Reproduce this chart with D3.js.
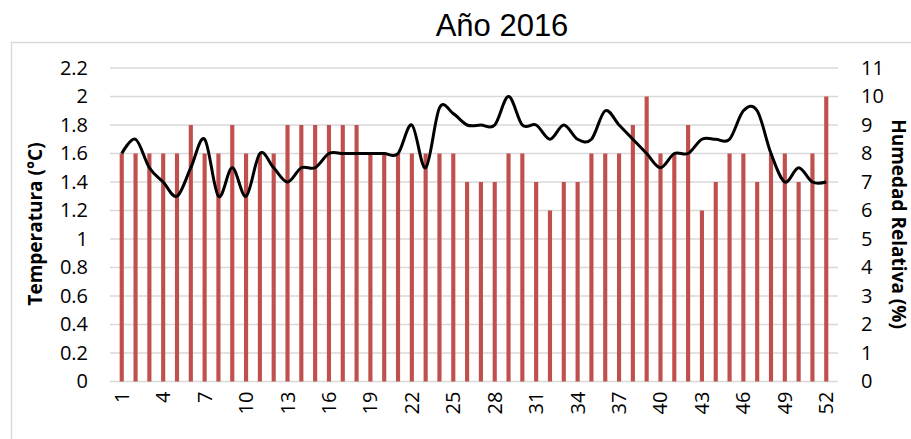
<!DOCTYPE html>
<html>
<head>
<meta charset="utf-8">
<script src="https://cdn.jsdelivr.net/npm/d3@7"></script>
<style>
  body { margin: 0; background: #fff; }
  svg { display: block; }
  .axis-label { font-family: "Open Sans", "Noto Sans", sans-serif; font-size: 19px; font-weight: bold; }
</style>
</head>
<body>
<svg width="911" height="439"></svg>
<script>
// semanas 1..52
const weeks = d3.range(1, 53);
const temperatura = [
  1.6, 1.6, 1.6, 1.6, 1.6, 1.8, 1.6, 1.6, 1.8, 1.6,
  1.6, 1.6, 1.8, 1.8, 1.8, 1.8, 1.8, 1.8, 1.6, 1.6,
  1.6, 1.6, 1.6, 1.6, 1.6, 1.4, 1.4, 1.4, 1.6, 1.6,
  1.4, 1.2, 1.4, 1.4, 1.6, 1.6, 1.6, 1.8, 2.0, 1.6,
  1.6, 1.8, 1.2, 1.4, 1.6, 1.6, 1.4, 1.6, 1.6, 1.4,
  1.6, 2.0
];
const humedad = [
  8, 8.5, 7.5, 7, 6.5, 7.5, 8.5, 6.5, 7.5, 6.5,
  8, 7.5, 7, 7.5, 7.5, 8, 8, 8, 8, 8,
  8, 9, 7.5, 9.6, 9.4, 9, 9, 9, 10, 9,
  9, 8.5, 9, 8.5, 8.5, 9.5, 9, 8.5, 8, 7.5,
  8, 8, 8.5, 8.5, 8.5, 9.5, 9.5, 8, 7, 7.5,
  7, 7
];
const tempTicks = d3.range(0, 2.21, 0.2);
const humTicks = d3.range(0, 12);
const xTicks = weeks.filter(w => (w - 1) % 3 === 0);

const margin = { left: 110, right: 73, top: 68, bottom: 57 };
const svg = d3.select('svg');
const width = +svg.attr('width');
const innerWidth = width - margin.left - margin.right;
const innerHeight = 381.5 - margin.top;

// marco del gráfico
svg.append('rect')
  .attr('x', 11.5).attr('y', 42.5)
  .attr('width', 920).attr('height', 420)
  .attr('fill', 'none').attr('stroke', '#d9d9d9').attr('stroke-width', 1.5);

svg.append('text')
  .attr('x', 502).attr('y', 36)
  .attr('text-anchor', 'middle')
  .style('font-family', '"Liberation Sans", Arial, sans-serif')
  .style('font-size', '31px')
  .text('Año 2016');

const g = svg.append('g')
  .attr('transform', `translate(${margin.left},${margin.top})`);

const xScale = d3.scaleBand().domain(weeks).range([0, innerWidth]).padding(0.7);
const yScale = d3.scaleLinear().domain([0, 2.2]).range([innerHeight, 0]);
const y2Scale = d3.scaleLinear().domain([0, 11]).range([innerHeight, 0]);

// rejilla
g.append('g')
  .selectAll('line').data(humTicks)
  .enter().append('line')
    .attr('x1', 0).attr('x2', innerWidth)
    .attr('y1', d => y2Scale(d)).attr('y2', d => y2Scale(d))
    .attr('stroke', '#d9d9d9').attr('stroke-width', 1.3);

const yAxisG = g.append('g')
  .call(d3.axisLeft(yScale).tickValues(tempTicks).tickSize(0).tickPadding(22)
    .tickFormat(d => d3.format('.1f')(d).replace(/\.0$/, '')));
yAxisG.select('.domain').remove();

const y2AxisG = g.append('g')
  .attr('transform', `translate(${innerWidth},0)`)
  .call(d3.axisRight(y2Scale).tickValues(humTicks).tickSize(0).tickPadding(23));
y2AxisG.select('.domain').remove();

const xAxisG = g.append('g')
  .attr('transform', `translate(0,${innerHeight})`)
  .call(d3.axisBottom(xScale).tickValues(xTicks).tickSize(0));
xAxisG.select('.domain').remove();
xAxisG.selectAll('.tick text')
  .attr('transform', 'rotate(-90)')
  .attr('x', -10).attr('y', 0).attr('dy', '0.35em')
  .style('text-anchor', 'end');

[yAxisG, y2AxisG, xAxisG].forEach(a => a
  .attr('font-family', '"Open Sans", "Noto Sans", sans-serif')
  .attr('font-size', 20)
  .selectAll('.tick text').attr('fill', '#000'));

g.selectAll('rect.bar').data(weeks)
  .enter().append('rect')
    .attr('class', 'bar')
    .attr('x', d => xScale(d))
    .attr('y', (d, i) => yScale(temperatura[i]))
    .attr('width', xScale.bandwidth())
    .attr('height', (d, i) => innerHeight - yScale(temperatura[i]))
    .attr('fill', '#c0504d');

const line = d3.line()
  .x(d => xScale(d) + xScale.bandwidth() / 2)
  .y((d, i) => y2Scale(humedad[i]))
  .curve(d3.curveCardinal.tension(0));

g.append('path')
  .datum(weeks)
  .attr('d', line)
  .attr('fill', 'none')
  .attr('stroke', '#000')
  .attr('stroke-width', 3);

svg.append('text')
  .attr('class', 'axis-label')
  .attr('transform', 'translate(42,224) rotate(-90)')
  .attr('text-anchor', 'middle')
  .text('Temperatura (°C)');

svg.append('text')
  .attr('class', 'axis-label')
  .attr('transform', 'translate(892,224) rotate(90)')
  .attr('text-anchor', 'middle')
  .text('Humedad Relativa (%)');
</script>
</body>
</html>
